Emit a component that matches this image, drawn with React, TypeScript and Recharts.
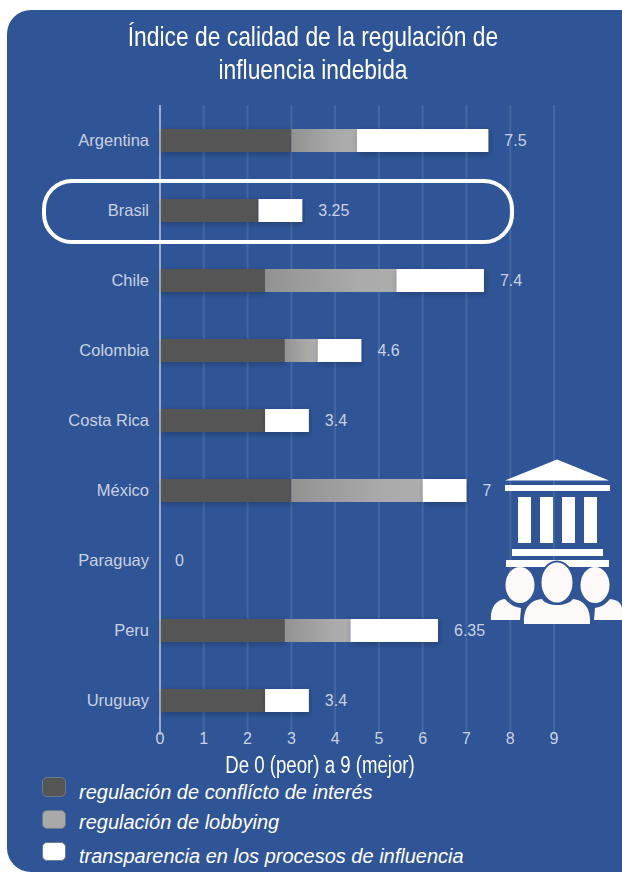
import { BarChart, Bar, XAxis, YAxis, CartesianGrid, LabelList, ReferenceDot } from "recharts"

const countries = ["Argentina", "Brasil", "Chile", "Colombia", "Costa Rica", "México", "Paraguay", "Peru", "Uruguay"]
const conflicto = [3, 2.25, 2.4, 2.85, 2.4, 3, 0, 2.85, 2.4]
const lobbying = [1.5, 0, 3, 0.75, 0, 3, 0, 1.5, 0]
const transparencia = [3, 1, 2, 1, 1, 1, 0, 2, 1]
const totals = ["7.5", "3.25", "7.4", "4.6", "3.4", "7", "0", "6.35", "3.4"]
const ticks = [0, 1, 2, 3, 4, 5, 6, 7, 8, 9]

const legendItems = [
  { label: "regulación de conflícto de interés", color: "#555555", top: 777, h: 20, textTop: 4 },
  { label: "regulación de lobbying", color: "#a9a9a9", top: 810, h: 19, textTop: 1 },
  { label: "transparencia en los procesos de influencia", color: "#ffffff", top: 842, h: 19, textTop: 3 },
]

const chartData = countries.map((name, i) => ({
  name,
  conflicto: conflicto[i],
  lobbying: lobbying[i],
  transparencia: transparencia[i],
  total: totals[i],
}))

const SANS = '"Liberation Sans", sans-serif'
const PANEL = "#2f5597"

function TotalLabel(props: any) {
  const { x, y, width, height, value } = props
  return (
    <text x={x + width + 16} y={y + height / 2 + 5} fill="#c9d1e0" fontSize={16} fontFamily={SANS}>
      {value}
    </text>
  )
}

function ZeroLabel(props: any) {
  const { viewBox } = props
  return (
    <text x={viewBox.x + 15} y={viewBox.y + 6} fill="#c9d1e0" fontSize={16} fontFamily={SANS}>
      0
    </text>
  )
}

function Building() {
  return (
    <svg width={162} height={200} style={{ position: "absolute", left: 460, top: 440 }}>
      <polygon points="45,40.5 97,19.5 149,40.5" fill="#fff" />
      <rect x={45} y={45} width={105} height={6} fill="#fff" />
      <rect x={58} y={57} width={13} height={46} fill="#fff" />
      <rect x={80} y={57} width={13} height={46} fill="#fff" />
      <rect x={102} y={57} width={13} height={46} fill="#fff" />
      <rect x={124} y={57} width={13} height={46} fill="#fff" />
      <rect x={52} y={109} width={91} height={7} fill="#fff" />
      <rect x={46} y={120} width={103} height={7} fill="#fff" />
      <ellipse cx={60} cy={145} rx={14.5} ry={18} fill="#fdf9f9" />
      <ellipse cx={135} cy={145} rx={14.5} ry={18} fill="#fdf9f9" />
      <path d="M31,180 C30,168 36,160 45,159 C50,165 55,167 61,168 L60,180 Z" fill="#fdf9f9" />
      <path d="M134,180 L135,168 C141,167 145,165 150,159 C158,160 162,163 162,170 L162,180 Z" fill="#fdf9f9" />
      <ellipse cx={97} cy={142.5} rx={16.5} ry={21} stroke={PANEL} strokeWidth={2} fill="#fdf9f9" />
      <path d="M64,184 C63,168 70,160 82,159 C87,167 107,167 113,159 C124,160 131,168 130,184 Z" fill="#fdf9f9" />
    </svg>
  )
}

export default function App() {
  return (
    <div style={{ position: "absolute", left: 0, top: 0, width: 622, height: 874, background: "#fff", overflow: "hidden" }}>
      <div style={{ position: "absolute", left: 7, top: 10, width: 640, height: 862, background: PANEL, borderRadius: 24 }} />
      <div style={{ position: "absolute", left: 0, top: 20, width: 626, textAlign: "center", color: "#fff", fontFamily: SANS, fontSize: 28, lineHeight: "33px", transform: "scaleX(0.815)" }}>
        Índice de calidad de la regulación de
        <br />
        influencia indebida
      </div>
      <div style={{ position: "absolute", left: 0, top: 0 }}>
        <BarChart
          width={622}
          height={800}
          data={chartData}
          layout="vertical"
          margin={{ top: 105, right: 68, bottom: 0, left: 0 }}
          barSize={23}
        >
          <defs>
            <linearGradient id="grisGrad" x1="0" y1="0" x2="1" y2="0">
              <stop offset="0" stopColor="#929292" />
              <stop offset="0.7" stopColor="#aaaaaa" />
              <stop offset="1" stopColor="#adadad" />
            </linearGradient>
            <filter id="barShadow" x="-5%" y="-20%" width="110%" height="150%">
              <feDropShadow dx={1} dy={2} stdDeviation={3} floodColor="#000" floodOpacity={0.25} />
            </filter>
          </defs>
          <CartesianGrid horizontal={false} stroke="#ffffff" strokeOpacity={0.1} strokeWidth={2} />
          <XAxis
            type="number"
            domain={[0, 9]}
            ticks={ticks}
            height={65}
            axisLine={false}
            tickLine={false}
            tick={{ fill: "#c9d1e0", fontSize: 16, fontFamily: SANS, dy: -8 }}
            tickMargin={0}
          />
          <YAxis
            type="category"
            dataKey="name"
            width={160}
            interval={0}
            axisLine={{ stroke: "#ffffff", strokeOpacity: 0.45, strokeWidth: 2 }}
            tickLine={false}
            tickMargin={5}
            tick={{ fill: "#c9d1e0", fontSize: 16.5, fontFamily: SANS }}
          />
          <Bar dataKey="conflicto" stackId="a" fill="#555555" filter="url(#barShadow)" isAnimationActive={false} />
          <Bar dataKey="lobbying" stackId="a" fill="url(#grisGrad)" isAnimationActive={false} />
          <Bar dataKey="transparencia" stackId="a" fill="#ffffff" filter="url(#barShadow)" isAnimationActive={false}>
            <LabelList dataKey="total" content={TotalLabel} />
          </Bar>
          <ReferenceDot x={0} y="Paraguay" r={0} fill="none" stroke="none" label={ZeroLabel} />
        </BarChart>
      </div>
      <div style={{ position: "absolute", left: 0, top: 751, width: 640, textAlign: "center", color: "#fff", fontFamily: SANS, fontSize: 23, lineHeight: "28px", transform: "scaleX(0.81)" }}>
        De 0 (peor) a 9 (mejor)
      </div>
      <div style={{ position: "absolute", left: 42, top: 0 }}>
        {legendItems.map((item) => (
          <div key={item.label} style={{ position: "absolute", left: 0, top: item.top }}>
            <div style={{ width: 24, height: item.h, background: item.color, borderRadius: 5, border: "1px solid #6f7a8c", boxSizing: "border-box" }} />
            <div style={{ position: "absolute", left: 37, top: item.textTop, whiteSpace: "nowrap", color: "#fff", fontStyle: "italic", fontFamily: SANS, fontSize: 20, lineHeight: "22px" }}>
              {item.label}
            </div>
          </div>
        ))}
      </div>
      <div style={{ position: "absolute", left: 42, top: 179, width: 472, height: 65, boxSizing: "border-box", border: "4px solid #fff", borderRadius: 30 }} />
      <Building />
    </div>
  )
}
